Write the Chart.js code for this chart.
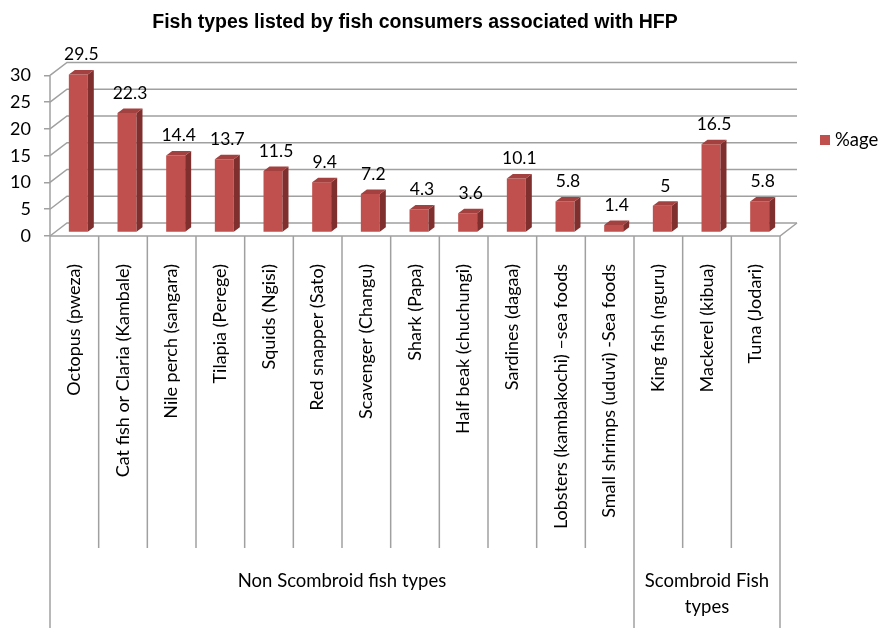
<!DOCTYPE html>
<html>
<head>
<meta charset="utf-8">
<script src="https://cdn.jsdelivr.net/npm/chart.js@4.4.0/dist/chart.umd.min.js"></script>
<style>
  html, body { margin: 0; padding: 0; background: #fff; }
  #wrap { width: 880px; height: 628px; }
</style>
</head>
<body>
<div id="wrap"><canvas id="fishChart" width="880" height="628"></canvas></div>
<script>
// Chart data
const categories = [
    'Octopus (pweza)',
    'Cat fish or Claria (Kambale)',
    'Nile perch (sangara)',
    'Tilapia (Perege)',
    'Squids (Ngisi)',
    'Red snapper (Sato)',
    'Scavenger (Changu)',
    'Shark (Papa)',
    'Half beak (chuchungi)',
    'Sardines (dagaa)',
    'Lobsters (kambakochi) \u2013sea foods',
    'Small shrimps (uduvi) -Sea foods',
    'King fish (nguru)',
    'Mackerel (kibua)',
    'Tuna (Jodari)'
];
const percentValues = [29.5, 22.3, 14.4, 13.7, 11.5, 9.4, 7.2, 4.3, 3.6, 10.1, 5.8, 1.4, 5, 16.5, 5.8];
const groupNames = [['Non Scombroid fish types'], ['Scombroid Fish', 'types']];
const groupSizes = [12, 3];
const yTicks = [0, 5, 10, 15, 20, 25, 30];

const seriesName = '%age';
const barFront = '#c0504d';
const barSide = '#7f302e';
const barTop = '#a2413f';
const lineGray = '#a0a0a0';
const labelFont = 'Lato, "Open Sans", sans-serif';

// depth of the 3d box and of the bars
const depthX = 17, depthY = -13;
const frontX = 4, frontY = -3.5;
const sideX = 6, sideY = -4.5;

const threeD = {
    id: 'threeD',
    beforeDatasetsDraw(chart) {
        const ctx = chart.ctx;
        const area = chart.chartArea;
        const yScale = chart.scales.y;
        const xScale = chart.scales.x;
        const H = chart.height;
        ctx.save();
        ctx.strokeStyle = lineGray;
        ctx.lineWidth = 1.5;
        // walls
        yTicks.forEach(v => {
            const y = yScale.getPixelForValue(v);
            ctx.beginPath();
            ctx.moveTo(area.left, y);
            ctx.lineTo(area.left + depthX, y + depthY);
            ctx.lineTo(area.right + depthX, y + depthY);
            ctx.stroke();
        });
        // floor
        const y0 = yScale.getPixelForValue(0);
        ctx.beginPath();
        ctx.moveTo(area.left, y0);
        ctx.lineTo(area.right, y0);
        ctx.lineTo(area.right + depthX, y0 + depthY);
        ctx.stroke();
        // left axis down to the bottom
        ctx.beginPath();
        ctx.moveTo(area.left, yScale.getPixelForValue(30));
        ctx.lineTo(area.left, H);
        ctx.stroke();
        // category separators
        const n = categories.length;
        const step = (xScale.getPixelForValue(1) - xScale.getPixelForValue(0));
        const bounds = [];
        let acc = 0;
        groupSizes.forEach(s => { acc += s; bounds.push(acc); });
        for (let i = 1; i <= n; i++) {
            const x = xScale.getPixelForValue(i) - step / 2;
            const isGroup = bounds.includes(i);
            ctx.beginPath();
            ctx.moveTo(x, y0);
            ctx.lineTo(x, isGroup ? H : 548);
            ctx.stroke();
        }
        // group labels
        ctx.fillStyle = '#000';
        ctx.font = '18.5px ' + labelFont;
        ctx.textAlign = 'center';
        ctx.textBaseline = 'middle';
        let start = 0;
        groupSizes.forEach((s, gi) => {
            const xl = xScale.getPixelForValue(start) - step / 2;
            const xr = xScale.getPixelForValue(start + s - 1) + step / 2;
            const lines = groupNames[gi];
            lines.forEach((t, li) => {
                ctx.fillText(t, (xl + xr) / 2, 581 + li * 26);
            });
            start += s;
        });
        ctx.restore();

        ctx.save();
        ctx.translate(frontX, frontY);
    },
    afterDatasetsDraw(chart) {
        const ctx = chart.ctx;
        ctx.restore();
        const meta = chart.getDatasetMeta(0);
        ctx.save();
        meta.data.forEach((bar, i) => {
            const w = bar.width;
            const l = bar.x - w / 2 + frontX;
            const r = bar.x + w / 2 + frontX;
            const t = bar.y + frontY;
            const b = bar.base + frontY;
            ctx.fillStyle = barSide;
            ctx.beginPath();
            ctx.moveTo(r, t);
            ctx.lineTo(r + sideX, t + sideY);
            ctx.lineTo(r + sideX, b + sideY);
            ctx.lineTo(r, b);
            ctx.closePath();
            ctx.fill();
            ctx.fillStyle = barTop;
            ctx.beginPath();
            ctx.moveTo(l, t);
            ctx.lineTo(l + sideX, t + sideY);
            ctx.lineTo(r + sideX, t + sideY);
            ctx.lineTo(r, t);
            ctx.closePath();
            ctx.fill();
            // value label
            ctx.fillStyle = '#000';
            ctx.font = '17.5px ' + labelFont;
            ctx.textAlign = 'center';
            ctx.textBaseline = 'bottom';
            ctx.fillText(String(percentValues[i]), bar.x + frontX + sideX / 2, t - 11);
        });
        // legend
        ctx.fillStyle = barFront;
        ctx.fillRect(820, 135, 10, 10);
        ctx.fillStyle = '#000';
        ctx.font = '18.5px ' + labelFont;
        ctx.textAlign = 'left';
        ctx.textBaseline = 'middle';
        ctx.fillText(seriesName, 835, 140);
        ctx.restore();
    }
};

new Chart(document.getElementById('fishChart'), {
    type: 'bar',
    data: {
        labels: categories,
        datasets: [{
            label: seriesName,
            data: percentValues,
            backgroundColor: barFront,
            borderWidth: 0,
            categoryPercentage: 1,
            barPercentage: 0.39,
            clip: false
        }]
    },
    options: {
        responsive: false,
        animation: false,
        events: [],
        layout: { padding: { left: 0, right: 100, top: 0, bottom: 0 } },
        scales: {
            x: {
                grid: { display: false },
                border: { display: false },
                ticks: {
                    autoSkip: false,
                    minRotation: 90,
                    maxRotation: 90,
                    padding: 20,
                    color: '#000',
                    font: { family: labelFont, size: 18 }
                },
                afterFit(scale) { scale.height = 392; }
            },
            y: {
                min: 0,
                max: 30,
                ticks: {
                    stepSize: 5,
                    padding: 13,
                    color: '#000',
                    font: { family: labelFont, size: 18 }
                },
                grid: { drawOnChartArea: false, tickLength: 6, color: lineGray, lineWidth: 1.5 },
                border: { display: false },
                afterFit(scale) { scale.width = 50; }
            }
        },
        plugins: {
            legend: { display: false },
            tooltip: { enabled: false },
            title: {
                display: true,
                fullSize: false,
                text: 'Fish types listed by fish consumers associated with HFP',
                color: '#000',
                font: { family: '"Liberation Sans", Arial, sans-serif', size: 19.5, weight: 'bold' },
                padding: { top: 11, bottom: 41 }
            }
        }
    },
    plugins: [threeD]
});
</script>
</body>
</html>
